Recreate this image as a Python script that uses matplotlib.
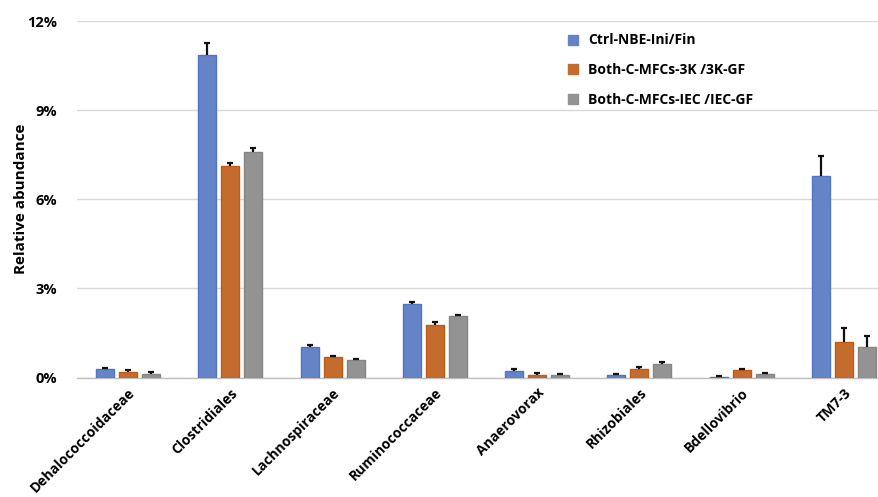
import matplotlib
matplotlib.use("Agg")
import matplotlib.pyplot as plt
import numpy as np
from matplotlib.ticker import FuncFormatter
from matplotlib.lines import Line2D

categories = ["Dehalococcoidaceae", "Clostridiales", "Lachnospiraceae", "Ruminococcaceae",
              "Anaerovorax", "Rhizobiales", "Bdellovibrio", "TM7-3"]
series_names = ["Ctrl-NBE-Ini/Fin", "Both-C-MFCs-3K /3K-GF", "Both-C-MFCs-IEC /IEC-GF"]

ctrl = [0.29, 10.85, 1.04, 2.48, 0.22, 0.08, 0.03, 6.80]
ctrl_err = [0.03, 0.42, 0.04, 0.05, 0.06, 0.05, 0.01, 0.64]
mfc_3k = [0.20, 7.11, 0.68, 1.77, 0.10, 0.30, 0.25, 1.19]
mfc_3k_err = [0.04, 0.12, 0.04, 0.10, 0.05, 0.04, 0.05, 0.47]
mfc_iec = [0.13, 7.58, 0.59, 2.07, 0.07, 0.45, 0.11, 1.02]
mfc_iec_err = [0.04, 0.13, 0.04, 0.03, 0.05, 0.06, 0.04, 0.39]

yticks = [0, 3, 6, 9, 12]

face_colors = ["#6584C8", "#C46B2E", "#939393"]
edge_colors = ["#4F76C4", "#C55A11", "#858585"]

fig = plt.figure(figsize=(8.79, 4.97), dpi=100)
ax = fig.add_axes([0.0876, 0.2404, 0.9306, 0.7173])

x = np.arange(len(categories))
width = 0.176
offsets = [-0.225, 0.0, 0.225]
values = [ctrl, mfc_3k, mfc_iec]
errors = [ctrl_err, mfc_3k_err, mfc_iec_err]

for vals, errs, off, fc, ec in zip(values, errors, offsets, face_colors, edge_colors):
    ax.bar(x + off, vals, width, color=fc, edgecolor=ec, linewidth=1.0, zorder=3)
    eb = ax.errorbar(x + off, vals, yerr=[np.zeros(len(vals)), errs], fmt="none",
                     ecolor="#111111", elinewidth=1.6, capsize=2.5, capthick=1.6, zorder=4)
    # only the upper cap is shown
    eb[1][0].set_visible(False)

ax.set_xlim(-0.5, len(categories) - 0.5)
ax.set_ylim(0, 12)
ax.set_yticks(yticks)
ax.yaxis.set_major_formatter(FuncFormatter(lambda v, p: f"{v:.0f}%"))
ax.grid(axis="y", color="#D9D9D9", linewidth=1.0, zorder=0)
ax.set_axisbelow(True)
for s in ["top", "right", "left"]:
    ax.spines[s].set_visible(False)
ax.spines["bottom"].set_color("#BFBFBF")
ax.spines["bottom"].set_linewidth(1.0)
ax.tick_params(axis="both", length=0)
ax.tick_params(axis="y", pad=14)

font = "Open Sans"
for lbl in ax.get_yticklabels():
    lbl.set_fontfamily(font)
    lbl.set_fontweight("bold")
    lbl.set_fontsize(10.5)

ax.set_xticks(x)
ax.set_xticklabels(categories, rotation=45, ha="right", rotation_mode="anchor",
                   fontfamily=font, fontweight="bold", fontsize=10)
ax.tick_params(axis="x", pad=6)

ax.set_ylabel("Relative abundance", fontfamily=font, fontweight="bold", fontsize=11, labelpad=0)

handles = [Line2D([0], [0], marker="s", linestyle="none", markersize=7,
                  markerfacecolor=fc, markeredgecolor=fc) for fc in face_colors]
leg = fig.legend(handles, series_names, loc="upper left", bbox_to_anchor=(0.622, 0.958),
                 frameon=False, handletextpad=0.1, labelspacing=1.15,
                 prop={"family": font, "weight": "bold", "size": 10})

fig.savefig("out.png", dpi=100)
